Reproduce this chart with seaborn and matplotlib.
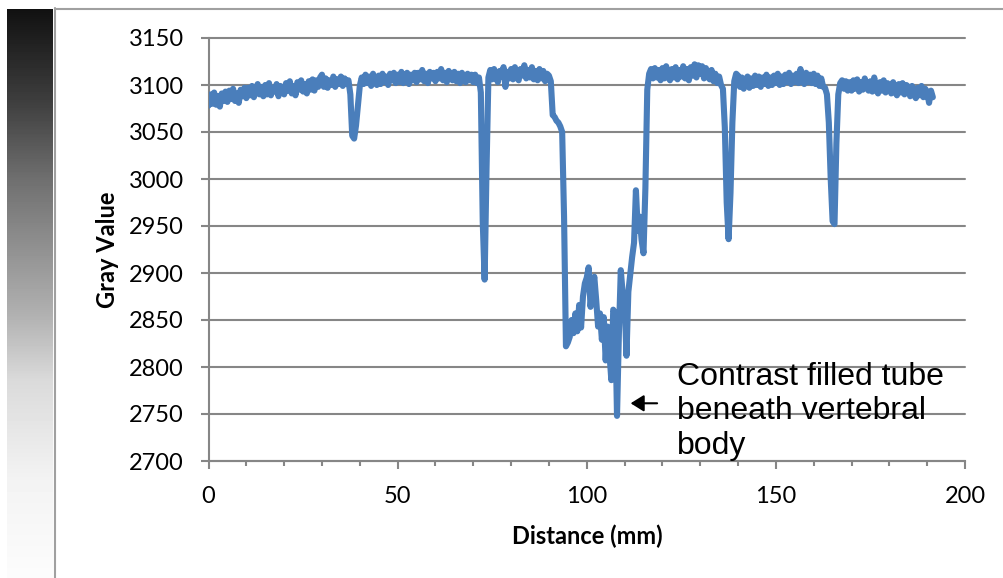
import numpy as np
import pandas as pd
import matplotlib
matplotlib.use("Agg")
import matplotlib.pyplot as plt
from matplotlib.lines import Line2D
import seaborn as sns

# Gray value profile, one sample every 0.5 mm (each row = 5 mm)
gray_value = [
    3078, 3090, 3080, 3092, 3079, 3088, 3077, 3091, 3083, 3093,   # 0
    3082, 3094, 3085, 3096, 3083, 3091, 3081, 3095, 3088, 3097,   # 5
    3086, 3097, 3089, 3099, 3087, 3095, 3101, 3090, 3098, 3088,   # 10
    3100, 3090, 3102, 3089, 3097, 3093, 3101, 3088, 3099, 3094,   # 15
    3090, 3102, 3094, 3104, 3091, 3099, 3089, 3103, 3095, 3105,   # 20
    3093, 3101, 3091, 3104, 3095, 3106, 3094, 3105, 3098, 3108,   # 25
    3111, 3098, 3107, 3097, 3105, 3100, 3109, 3098, 3106, 3101,   # 30
    3109, 3099, 3107, 3101, 3105, 3090, 3046, 3043, 3057, 3078,   # 35
    3099, 3108, 3101, 3111, 3102, 3109, 3099, 3112, 3104, 3100,   # 40
    3110, 3101, 3112, 3103, 3109, 3100, 3112, 3105, 3113, 3102,   # 45
    3111, 3103, 3114, 3102, 3109, 3113, 3101, 3111, 3105, 3113,   # 50
    3103, 3113, 3106, 3116, 3104, 3112, 3102, 3114, 3107, 3113,   # 55
    3104, 3114, 3107, 3117, 3105, 3113, 3103, 3115, 3109, 3105,   # 60
    3114, 3104, 3112, 3102, 3113, 3106, 3103, 3112, 3105, 3111,   # 65
    3103, 3111, 3102, 3108, 3092, 2955, 2893, 3010, 3108, 3116,   # 70
    3106, 3117, 3108, 3103, 3115, 3109, 3119, 3098, 3114, 3107,   # 75
    3117, 3106, 3119, 3109, 3105, 3117, 3110, 3121, 3107, 3116,   # 80
    3108, 3119, 3106, 3115, 3105, 3117, 3107, 3115, 3104, 3112,   # 85
    3110, 3104, 3068, 3066, 3062, 3060, 3056, 3050, 2960, 2822,   # 90
    2826, 2832, 2850, 2836, 2857, 2838, 2866, 2842, 2875, 2889,   # 95
    2895, 2906, 2864, 2885, 2896, 2871, 2843, 2857, 2829, 2853,   # 100
    2807, 2843, 2815, 2786, 2861, 2857, 2748, 2836, 2903, 2878,   # 105
    2871, 2812, 2880, 2898, 2917, 2932, 2988, 2945, 2960, 2935,   # 110
    2921, 2990, 3095, 3112, 3117, 3107, 3118, 3108, 3116, 3105,   # 115
    3118, 3107, 3120, 3109, 3105, 3117, 3108, 3119, 3106, 3116,   # 120
    3109, 3120, 3107, 3117, 3105, 3119, 3110, 3122, 3108, 3121,   # 125
    3112, 3120, 3107, 3118, 3109, 3106, 3116, 3104, 3112, 3102,   # 130
    3109, 3100, 3096, 3055, 2975, 2936, 2985, 3060, 3104, 3112,   # 135
    3110, 3098, 3108, 3096, 3105, 3109, 3097, 3107, 3099, 3110,   # 140
    3100, 3109, 3098, 3108, 3101, 3111, 3099, 3108, 3100, 3110,   # 145
    3102, 3112, 3100, 3109, 3101, 3111, 3103, 3113, 3101, 3110,   # 150
    3103, 3112, 3102, 3117, 3105, 3101, 3113, 3103, 3111, 3102,   # 155
    3112, 3101, 3110, 3099, 3107, 3098, 3097, 3090, 3060, 3000,   # 160
    2955, 2952, 3038, 3090, 3102, 3105, 3096, 3104, 3094, 3103,   # 165
    3094, 3105, 3096, 3106, 3093, 3103, 3095, 3107, 3098, 3094,   # 170
    3104, 3093, 3108, 3096, 3091, 3103, 3094, 3105, 3092, 3102,   # 175
    3100, 3091, 3103, 3093, 3089, 3101, 3092, 3102, 3090, 3100,   # 180
    3098, 3088, 3099, 3090, 3086, 3097, 3089, 3099, 3087, 3096,   # 185
    3092, 3081, 3094, 3087,                                       # 190
]
sample_step_mm = 0.5
distance_mm = np.arange(len(gray_value)) * sample_step_mm

x_major_ticks = [0, 50, 100, 150, 200]
x_minor_ticks = list(range(0, 201, 10))
y_ticks = [2700, 2750, 2800, 2850, 2900, 2950, 3000, 3050, 3100, 3150]

annotation_text = "Contrast filled tube\nbeneath vertebral\nbody"

sns.set_style("white")
plt.rcParams["font.family"] = ["Lato", "DejaVu Sans"]

W, H = 1004, 578
fig = plt.figure(figsize=(W / 100, H / 100), dpi=100)

# decorative grayscale strip on the left
stops_y = [9, 100, 180, 313, 380, 480, 578]
stops_v = [17, 62, 112, 176, 218, 243, 252]
rows = np.interp(np.arange(9, 578), stops_y, stops_v).reshape(-1, 1)
gax = fig.add_axes([7 / W, 0, 46 / W, 569 / H])
gax.imshow(rows, cmap="gray", vmin=0, vmax=255, aspect="auto")
gax.axis("off")

# chart border lines (left and top)
fig.add_artist(Line2D([55.5 / W, 55.5 / W], [0, 1 - 8 / H], color="#a0a0a0", lw=1.5,
                      transform=fig.transFigure))
fig.add_artist(Line2D([55.5 / W, 1], [1 - 8.5 / H, 1 - 8.5 / H], color="#a0a0a0", lw=1.5,
                      transform=fig.transFigure))

ax = fig.add_axes([208.5 / W, 1 - 461 / H, (965 - 208.5) / W, (461 - 38) / H])
df = pd.DataFrame({"Distance (mm)": distance_mm, "Gray Value": gray_value})
sns.lineplot(data=df, x="Distance (mm)", y="Gray Value", ax=ax, color="#4a7ebb",
             lw=4.4, estimator=None, sort=False)
for ln in ax.lines:
    ln.set_solid_joinstyle("round")
    ln.set_solid_capstyle("round")
    ln.set_zorder(3)

ax.set_xlim(0, 200)
ax.set_ylim(2700, 3150)
ax.set_xticks(x_major_ticks)
ax.set_xticks(x_minor_ticks, minor=True)
ax.set_yticks(y_ticks)

grid_c = "#868686"
ax.yaxis.grid(True, color=grid_c, lw=1.5)
ax.xaxis.grid(False)
for gl in ax.get_ygridlines():
    gl.set_clip_on(False)
ax.set_axisbelow(True)
for s in ["top", "right"]:
    ax.spines[s].set_visible(False)
for s in ["left", "bottom"]:
    ax.spines[s].set_color(grid_c)
    ax.spines[s].set_linewidth(1.5)

ax.tick_params(axis="both", which="major", direction="out", length=5.8, width=1.5,
               color=grid_c, labelsize=17, labelcolor="black", pad=12,
               bottom=True, left=True)
ax.tick_params(axis="x", which="minor", direction="out", length=3.6, width=1.5,
               color=grid_c, bottom=True)

ax.set_xlabel("Distance (mm)", fontsize=17, fontweight="bold", color="black")
ax.set_ylabel("Gray Value", fontsize=17, fontweight="bold", color="black")
ax.xaxis.set_label_coords(0.5003, -0.177)
ax.xaxis.label.set_va("center")
ax.yaxis.set_label_coords(-0.133, 0.5)
ax.yaxis.label.set_va("center")

ax.text(123.8, 2805.5, annotation_text, fontsize=23,
        family=["Liberation Sans", "DejaVu Sans"], va="top", ha="left",
        color="black", zorder=5, linespacing=1.2)
ax.annotate("", xy=(111.6, 2761.4), xytext=(118.6, 2761.4),
            arrowprops=dict(arrowstyle="-|>,head_length=0.8,head_width=0.5",
                            color="black", lw=1.5, shrinkA=0, shrinkB=0))

fig.savefig("out.png", dpi=100)
